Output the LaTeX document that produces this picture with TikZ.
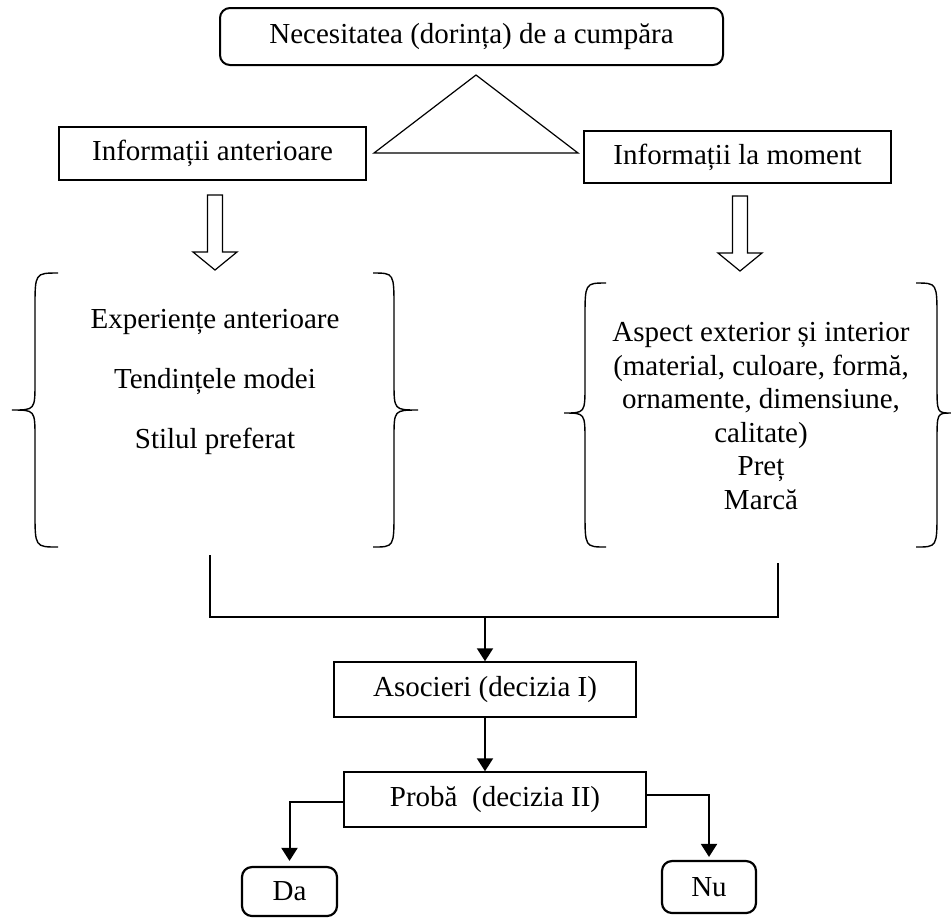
\documentclass[tikz,border=0pt]{standalone}
\usepackage{fontspec}
\setmainfont{Liberation Serif}
\usetikzlibrary{arrows.meta,calc}
\newcommand\mybrace[7]{% xe, xv, xt, ytop, ymid, ybot, name
  \draw[brace] (#1,#4) .. controls (#2,#4) .. (#2,#4+35) -- (#2,#5-28)
    .. controls (#2,#5) .. (#3,#5) .. controls (#2,#5) .. (#2,#5+28)
    -- (#2,#6-35) .. controls (#2,#6) .. (#1,#6);}
\begin{document}
\begin{tikzpicture}[x=0.5pt,y=-0.5pt,
  font=\fontsize{14.5}{17}\selectfont,
  box/.style={draw, line width=0.75pt, inner sep=0pt},
  rbox/.style={draw, rounded corners=5pt, line width=1pt, inner sep=0pt},
  conn/.style={line width=1pt, -{Triangle[length=6.5pt,width=8pt]}},
  link/.style={line width=0.75pt},
  brace/.style={line width=0.7pt},
  hollow/.style={draw, line width=0.6pt, fill=white},
  hollowdown/.pic={\draw[hollow] (-7.5,0) -- (7.5,0) -- (7.5,57) -- (22,57) -- (0,75) -- (-22,57) -- (-7.5,57) -- cycle;}]
\useasboundingbox (0,0) rectangle (951,918);

% top
\node[rbox, minimum width=251.5pt, minimum height=28.5pt] (need) at (471.5,36.5) {Necesitatea (dorința) de a cumpăra};
\draw[link, line width=0.6pt] (476,75) -- (374,153) -- (578,153) -- cycle;
\node[box, minimum width=153.5pt, minimum height=26.5pt] (prev) at (212.5,153.5) {Informații anterioare};
\node[box, minimum width=153.5pt, minimum height=26pt] (now) at (737.5,157) {Informații la moment};

% hollow arrows
\pic at (215,195) {hollowdown};
\pic at (740,196) {hollowdown};

% braces
\mybrace{58}{35}{12}{273}{410}{547}{bl1}
\mybrace{373}{394}{418}{273}{410}{547}{bl2}
\mybrace{606}{585}{564}{283}{413}{547}{br1}
\mybrace{916}{937}{951}{283}{413}{547}{br2}

\node[align=center, font=\fontsize{14.5}{30}\selectfont] (lefttext) at (215,382)
  {Experiențe anterioare\\Tendințele modei\\Stilul preferat};
\node[align=center, font=\fontsize{14.5}{16.8}\selectfont] (righttext) at (761,416)
  {Aspect exterior și interior\\(material, culoare, formă,\\ornamente, dimensiune,\\calitate)\\Preț\\Marcă};

% joining lines
\coordinate (jl) at (210,555);
\coordinate (jr) at (778,563);
\coordinate (jm) at (485,617);
\draw[link] (jl) |- (jm) -| (jr);

\node[box, minimum width=151pt, minimum height=27.5pt] (aso) at (485,689.5) {Asocieri (decizia I)};
\node[box, minimum width=151pt, minimum height=27.5pt] (proba) at (495,799.5) {Probă\ \ (decizia II)};
\node[rbox, line width=1.1pt, minimum width=47.5pt, minimum height=24.5pt] (da) at (289.5,891.5) {\raisebox{-2.5pt}{Da}};
\node[rbox, line width=1.1pt, minimum width=47pt, minimum height=26pt] (nu) at (709,887) {\raisebox{-1.5pt}{Nu}};

\draw[conn] (jm) -- (aso.north);
\draw[conn] (aso.south) -- (aso.south |- proba.north);
\draw[conn, shorten >=2.5pt] ([yshift=-1.25pt]proba.west) -| (da.north);
\draw[conn, shorten >=1.5pt] ([yshift=2.25pt]proba.east) -| (nu.north);
\end{tikzpicture}
\end{document}
